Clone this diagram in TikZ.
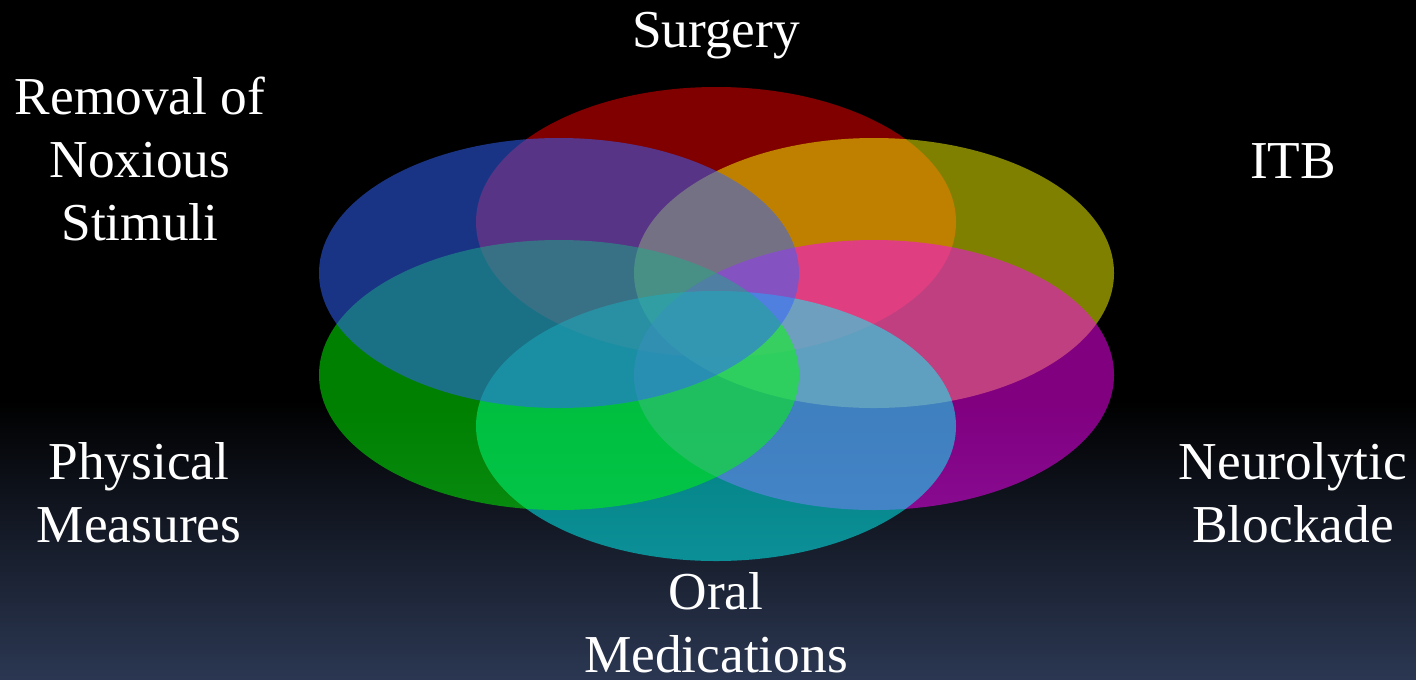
\documentclass[tikz,border=0pt]{standalone}
\usepackage{fontspec}
\setmainfont{Liberation Serif}
\usetikzlibrary{shapes.geometric}
\definecolor{bgbottom}{RGB}{43,55,82}
\definecolor{petalred}{RGB}{255,0,0}
\definecolor{petalyellow}{RGB}{255,255,0}
\definecolor{petalmagenta}{RGB}{255,0,255}
\definecolor{petalcyan}{RGB}{0,255,255}
\definecolor{petalgreen}{RGB}{0,255,0}
\definecolor{petalblue}{RGB}{51,100,255}
\tikzstyle{petal} = [
    ellipse,
    minimum width=360pt,
    minimum height=202.5pt,
    inner sep=0pt,
    draw=none,
    fill opacity=0.5
]
\tikzstyle{heading} = [
    text=white,
    align=center,
    inner sep=0pt,
    anchor=base,
    font=\fontsize{40}{47}\selectfont
]

\begin{document}
\begin{tikzpicture}[x=0.75pt, y=-0.75pt]

\useasboundingbox (0,0) rectangle (1416,679);
\fill[black] (0,0) rectangle (1416,400);
\shade[top color=black, bottom color=bgbottom] (0,400) rectangle (1416,679);

\node (surgery) [petal, fill=petalred] at (716,222) {};
\node (itb) [petal, fill=petalyellow] at (874,273) {};
\node (neuro) [petal, fill=petalmagenta] at (874,375) {};
\node (oral) [petal, fill=petalcyan] at (716,426) {};
\node (physical) [petal, fill=petalgreen] at (559,375) {};
\node (removal) [petal, fill=petalblue, fill opacity=0.52] at (559,273) {};

% the base anchor sits on the last line
\node (surgerytext) [heading] at (716,47) {Surgery};
\node (removaltext) [heading] at (140,240)
{Removal of\\Noxious\\Stimuli};
\node (itbtext) [heading] at (1293,178) {ITB};
\node (physicaltext) [heading] at (139,542)
{Physical\\Measures};
\node (neurotext) [heading] at (1293,542)
{Neurolytic\\Blockade};
\node (oraltext) [heading] at (716,672)
{Oral\\Medications};

\end{tikzpicture}
\end{document}
